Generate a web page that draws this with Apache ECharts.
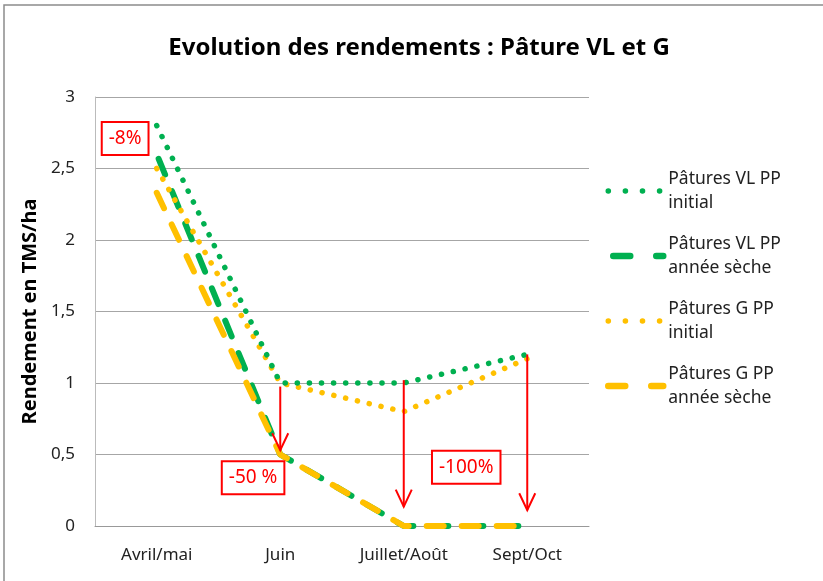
<!DOCTYPE html>
<html>
<head>
<meta charset="utf-8">
<script src="https://cdn.jsdelivr.net/npm/echarts@6/dist/echarts.min.js"></script>
<style>
  html, body { margin: 0; padding: 0; background: #fff; }
  #chart { width: 823px; height: 581px; }
</style>
</head>
<body>
<div id="chart"></div>
<script>
const months = ['Avril/mai', 'Juin', 'Juillet/Août', 'Sept/Oct'];
const vlInitial = [2.8, 1, 1, 1.2];
const vlSeche = [2.6, 0.5, 0, 0];
const gInitial = [2.5, 1, 0.8, 1.17];
const gSeche = [2.33, 0.5, 0, 0];

// arrows: category index, start value, tip value
const arrowCat = [1, 2, 3];
const arrowFrom = [0.975, 1.02, 1.2];
const arrowTo = [0.53, 0.135, 0.11];

// boxed labels: category position (fractional), value
const noteText = ['-8%', '-50 %', '-100%'];
const notePos = [-0.256, 0.78, 2.506];
const noteVal = [2.71, 0.337, 0.41];

const GREEN = '#00B050';
const YELLOW = '#FFC000';
const FONT = '"Noto Sans", sans-serif';

const chart = echarts.init(document.getElementById('chart'));

const dotted = { type: [0.1, 12], cap: 'round', width: 5.5 };
const dashed = { type: [17, 18], cap: 'round', width: 6 };
// legend icons get their own dash pattern
const dottedKey = { type: [0.1, 17], cap: 'round', width: 5.5 };
const dashedKey = { type: [17, 26], cap: 'round', width: 6.5 };

function lineSeries(name, data, color, style, z, offset) {
  return {
    name,
    type: 'line',
    data,
    symbol: 'none',
    z,
    lineStyle: { color, width: style.width, type: style.type, cap: style.cap, dashOffset: offset || 0 },
    itemStyle: { color },
    animation: false
  };
}

function legendItem(name, color, style) {
  return {
    name,
    itemStyle: { opacity: 0 },
    lineStyle: { color, width: style.width, type: style.type, cap: style.cap }
  };
}

chart.setOption({
  backgroundColor: '#fff',
  animation: false,
  title: {
    text: 'Evolution des rendements : Pâture VL et G',
    left: 414,
    top: 31,
    textAlign: 'center',
    textStyle: { fontFamily: FONT, fontSize: 24, fontWeight: 'bold', color: '#000' }
  },
  graphic: [{
    type: 'rect',
    shape: { x: 4, y: 5, width: 900, height: 700 },
    style: { fill: 'none', stroke: '#8c8c8c', lineWidth: 1.5 },
    silent: true
  }],
  legend: {
    orient: 'vertical',
    left: 605,
    top: 155,
    padding: 0,
    itemWidth: 55,
    itemHeight: 14,
    itemGap: -7,
    data: [
      legendItem('Pâtures VL PP\ninitial', GREEN, dottedKey),
      legendItem('Pâtures VL PP\nannée sèche', GREEN, dashedKey),
      legendItem('Pâtures G PP\ninitial', YELLOW, dottedKey),
      legendItem('Pâtures G PP\nannée sèche', YELLOW, dashedKey)
    ],
    textStyle: {
      fontFamily: FONT,
      fontSize: 17.5,
      color: '#222',
      lineHeight: 24,
      padding: [24, 0, 0, 0]
    }
  },
  grid: { left: 95, right: 234, top: 97, bottom: 55 },
  xAxis: {
    type: 'category',
    data: months,
    boundaryGap: true,
    axisLine: { lineStyle: { color: '#999', width: 1 } },
    axisTick: { show: false },
    axisLabel: { fontFamily: FONT, fontSize: 17, color: '#222', margin: 21 }
  },
  yAxis: {
    type: 'value',
    min: 0,
    max: 3,
    interval: 0.5,
    name: 'Rendement en TMS/ha',
    nameLocation: 'middle',
    nameGap: 49,
    nameTextStyle: { fontFamily: FONT, fontSize: 20, fontWeight: 'bold', color: '#000' },
    axisLine: { show: true, lineStyle: { color: '#bbb', width: 1 } },
    axisTick: { show: false },
    axisLabel: {
      fontFamily: FONT,
      fontSize: 17,
      color: '#222',
      margin: 20,
      formatter: v => String(v).replace('.', ',')
    },
    splitLine: { lineStyle: { color: '#a6a6a6', width: 1 } }
  },
  series: [
    lineSeries('Pâtures VL PP\ninitial', vlInitial, GREEN, dotted, 4),
    lineSeries('Pâtures VL PP\nannée sèche', vlSeche, GREEN, dashed, 2, -5),
    lineSeries('Pâtures G PP\ninitial', gInitial, YELLOW, dotted, 3),
    lineSeries('Pâtures G PP\nannée sèche', gSeche, YELLOW, dashed, 2),
    {
      type: 'custom',
      z: 5,
      data: arrowCat.map((c, i) => [c, arrowFrom[i], arrowTo[i]]),
      renderItem: (params, api) => {
        const a = api.coord([api.value(0), api.value(1)]);
        const b = api.coord([api.value(0), api.value(2)]);
        const st = { stroke: '#FF0000', lineWidth: 2, fill: 'none' };
        return {
          type: 'group',
          children: [
            { type: 'line', shape: { x1: a[0], y1: a[1], x2: b[0], y2: b[1] }, style: st },
            { type: 'polyline', shape: { points: [[b[0] - 8, b[1] - 17], [b[0], b[1]], [b[0] + 8, b[1] - 17]] }, style: st }
          ]
        };
      },
      animation: false
    },
    {
      type: 'custom',
      z: 6,
      data: notePos.map((p, i) => [p, noteVal[i], i]),
      renderItem: (params, api) => {
        const p = api.value(0);
        const base = Math.max(Math.floor(p), 0);
        const band = api.size([1, 0])[0];
        const c = api.coord([base, api.value(1)]);
        const x = c[0] + (p - base) * band;
        return {
          type: 'text',
          x: x,
          y: c[1],
          style: {
            text: noteText[api.value(2)],
            fill: '#FF0000',
            font: '19px ' + FONT,
            align: 'center',
            verticalAlign: 'middle',
            backgroundColor: '#fff',
            borderColor: '#FF0000',
            borderWidth: 2,
            padding: [7, 6, 5, 6]
          }
        };
      },
      animation: false
    }
  ]
});
</script>
</body>
</html>
